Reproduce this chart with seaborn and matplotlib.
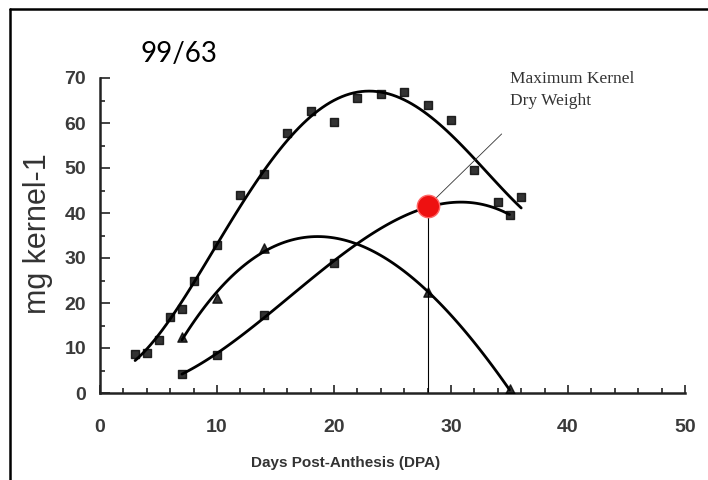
import numpy as np
import pandas as pd
import seaborn as sns
import matplotlib
matplotlib.use("Agg")
import matplotlib.pyplot as plt
from matplotlib.lines import Line2D
from matplotlib.ticker import MultipleLocator
from matplotlib import font_manager

# kernel dry weight, squares (upper curve)
dpa_a = [3, 4, 5, 6, 7, 8, 10, 12, 14, 16, 18, 20, 22, 24, 26, 28, 30, 32,
         34, 36]
wt_a = [8.6, 9.0, 11.8, 16.9, 18.7, 24.9, 32.9, 44.0, 48.7, 57.8, 62.7, 60.2,
        65.5, 66.4, 66.9, 64.0, 60.7, 49.6, 42.4, 43.6]

# rising curve with the maximum kernel dry weight point
dpa_b = [7, 10, 14, 20, 28, 35]
wt_b = [4.3, 8.4, 17.3, 28.9, 41.5, 39.6]

# triangles
dpa_c = [7, 10, 14, 28, 35]
wt_c = [12.4, 21.1, 32.3, 22.4, 0.8]

max_dpa = 28
max_wt = 41.5

x_ticks = [0, 10, 20, 30, 40, 50]
y_ticks = [0, 10, 20, 30, 40, 50, 60, 70]

df_a = pd.DataFrame({"dpa": dpa_a, "wt": wt_a})
df_b = pd.DataFrame({"dpa": dpa_b, "wt": wt_b})
df_c = pd.DataFrame({"dpa": dpa_c, "wt": wt_c})

sns.set_style("white")
plt.rcParams["font.family"] = ["Liberation Sans", "DejaVu Sans"]

fig = plt.figure(figsize=(7.08, 4.8), dpi=100)
ax = fig.add_axes([100 / 708, 87 / 480, 585 / 708, 315 / 480])

line_kw = {"color": "black", "lw": 2.0}
sns.regplot(x="dpa", y="wt", data=df_a, order=4, ci=None, ax=ax, marker="s",
            scatter_kws={"s": 40, "color": "black", "zorder": 3},
            line_kws=line_kw)
sns.regplot(x="dpa", y="wt", data=df_b, order=3, ci=None, ax=ax, marker="s",
            scatter_kws={"s": 40, "color": "black", "zorder": 3},
            line_kws=line_kw)
sns.regplot(x="dpa", y="wt", data=df_c, order=3, ci=None, ax=ax, marker="^",
            scatter_kws={"s": 45, "color": "black", "zorder": 3},
            line_kws=line_kw)

# red marker for the maximum kernel dry weight
ax.scatter([max_dpa], [max_wt], s=260, color="#ee1111", zorder=5,
           edgecolors="#ff6666", linewidths=1)

# thin guide lines
ax.plot([max_dpa, max_dpa], [0, max_wt], color="black", lw=0.8, zorder=2)
ax.annotate("", xy=(max_dpa, max_wt), xytext=(34.5, 58),
            arrowprops=dict(arrowstyle="-", lw=0.6, color="#333333"))
ax.text(35.0, 71.5, "Maximum Kernel\nDry Weight", family="Liberation Serif",
        fontsize=12.5, color="#333333", va="top", ha="left", linespacing=1.45,
        clip_on=False)

ax.set_xlim(0, 50)
ax.set_ylim(0, 70)
ax.set_xticks(x_ticks)
ax.set_yticks(y_ticks)
ax.xaxis.set_minor_locator(MultipleLocator(2))
ax.yaxis.set_minor_locator(MultipleLocator(5))
ax.set_xlabel("")
ax.set_ylabel("")

for side in ["top", "right"]:
    ax.spines[side].set_visible(False)
for side in ["left", "bottom"]:
    ax.spines[side].set_color("#222222")
    ax.spines[side].set_linewidth(1.8)

ax.tick_params(axis="both", which="both", direction="in", colors="#222222",
               width=1.2, bottom=True, left=True)
ax.tick_params(axis="x", which="major", length=6, pad=19, labelsize=14,
               labelcolor="#3a3a3a")
ax.tick_params(axis="y", which="major", length=7, pad=10, labelsize=14,
               labelcolor="#3a3a3a")
ax.tick_params(axis="both", which="minor", length=3.5)
for lab in ax.get_xticklabels() + ax.get_yticklabels():
    lab.set_fontweight("bold")

# axis titles
fig.text(38 / 708, 1 - 234 / 480, "mg kernel-1", rotation=90, ha="center",
         va="center", fontsize=22, color="#333333")

names = {f.name for f in font_manager.fontManager.ttflist}
if "Liberation Sans Narrow" in names:
    xl_family, xl_size = "Liberation Sans Narrow", 13
else:
    xl_family, xl_size = "Liberation Sans", 11
fig.text(346 / 708, 1 - 463 / 480, "Days Post-Anthesis (DPA)",
         family=xl_family, fontsize=xl_size, fontweight="bold",
         color="#333333", ha="center", va="center")

fig.text(141 / 708, 1 - 62 / 480, "99/63", family=["Lato", "DejaVu Sans"],
         fontsize=20, color="black", ha="left", va="baseline")

# frame of the cropped screenshot (top and left edges)
fig.add_artist(Line2D([10 / 708, 1], [1 - 8.5 / 480, 1 - 8.5 / 480],
                      color="black", lw=1.8, transform=fig.transFigure))
fig.add_artist(Line2D([10 / 708, 10 / 708], [0, 1 - 8.5 / 480],
                      color="black", lw=1.8, transform=fig.transFigure))

fig.savefig("out.png", dpi=100)
